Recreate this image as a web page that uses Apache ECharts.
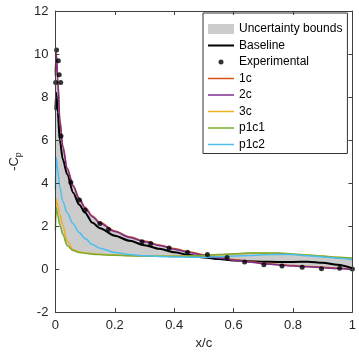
<!DOCTYPE html>
<html>
<head>
<meta charset="utf-8">
<script src="https://cdn.jsdelivr.net/npm/echarts@6/dist/echarts.min.js"></script>
<style>
  html, body { margin: 0; padding: 0; background: #fff; }
  #chart { width: 359px; height: 355px; }
</style>
</head>
<body>
<div id="chart"></div>
<script>
// chordwise stations shared by all computed curves
const xPos = [0, 0.003, 0.008, 0.015, 0.025, 0.04, 0.06, 0.08, 0.1, 0.125, 0.15, 0.2, 0.25, 0.3, 0.35, 0.4, 0.45, 0.5, 0.55, 0.6, 0.65, 0.7, 0.75, 0.8, 0.85, 0.9, 0.95, 1.0]

const baseline = [7.4, 8.2, 7.3, 6.0, 5.1, 4.4, 3.55, 3.0, 2.62, 2.15, 1.9, 1.55, 1.31, 1.11, 0.94, 0.78, 0.65, 0.54, 0.46, 0.4, 0.36, 0.34, 0.33, 0.33, 0.34, 0.29, 0.2, 0.03]
const c1 = [9.2, 10.1, 8.9, 7.0, 5.75, 4.7, 3.9, 3.3, 2.87, 2.47, 2.17, 1.77, 1.5, 1.3, 1.12, 0.95, 0.8, 0.66, 0.54, 0.44, 0.35, 0.27, 0.21, 0.16, 0.12, 0.08, 0.04, -0.02]
const c2 = [9.0, 10.0, 8.8, 6.9, 5.68, 4.65, 3.85, 3.26, 2.83, 2.43, 2.13, 1.74, 1.47, 1.27, 1.09, 0.92, 0.77, 0.63, 0.51, 0.41, 0.33, 0.25, 0.19, 0.14, 0.1, 0.06, 0.02, -0.03]
const c3 = [2.3, 3.25, 2.95, 2.55, 2.05, 1.3, 0.9, 0.8, 0.75, 0.71, 0.68, 0.65, 0.62, 0.6, 0.59, 0.59, 0.6, 0.62, 0.66, 0.7, 0.73, 0.74, 0.73, 0.69, 0.64, 0.59, 0.54, 0.49]
const p1c1 = [1.8, 2.85, 2.5, 2.05, 1.6, 1.08, 0.86, 0.77, 0.73, 0.69, 0.67, 0.64, 0.62, 0.6, 0.59, 0.59, 0.6, 0.63, 0.67, 0.71, 0.74, 0.75, 0.74, 0.7, 0.65, 0.6, 0.55, 0.5]
const p1c2 = [3.7, 5.2, 4.6, 3.85, 3.15, 2.6, 2.1, 1.7, 1.42, 1.14, 0.97, 0.77, 0.67, 0.62, 0.58, 0.56, 0.55, 0.55, 0.57, 0.6, 0.63, 0.66, 0.68, 0.67, 0.62, 0.56, 0.5, 0.43]

// measured points
const expX = [0.001, 0.004, 0.01, 0.013, 0.018, 0.019, 0.052, 0.081, 0.1, 0.15, 0.179, 0.292, 0.321, 0.383, 0.445, 0.512, 0.578, 0.637, 0.702, 0.763, 0.831, 0.896, 0.957, 1.0]
const expY = [8.68, 10.19, 9.69, 9.04, 8.68, 6.19, 4.03, 3.21, 2.73, 2.12, 1.84, 1.27, 1.19, 0.98, 0.78, 0.67, 0.54, 0.33, 0.2, 0.14, 0.08, 0.01, 0.03, 0.0]

const xTicks = [0, 0.2, 0.4, 0.6, 0.8, 1]
const yTicks = [-2, 0, 2, 4, 6, 8, 10, 12]

const colors = {
    c1: '#D95319',
    c2: '#7E2F8E',
    c3: '#EDB120',
    p1c1: '#77AC30',
    p1c2: '#4DBEEE'
}

// envelope of all computed curves
const all = [baseline, c1, c2, c3, p1c1, p1c2]
const lower = xPos.map((x, i) => Math.min(...all.map(s => s[i])))
const upper = xPos.map((x, i) => Math.max(...all.map(s => s[i])))

const pairs = ys => xPos.map((x, i) => [x, ys[i]])

const font = '"Liberation Sans", Arial, Helvetica, sans-serif'
const axisColor = '#404040'
const textColor = '#262626'

// legend icons: degenerate corners keep the 26x10 box so the mark keeps its size
const lineIcon = w => 'path://M0,0L0,0M26,10L26,10M0,' + (5 - w / 2) + 'L26,' + (5 - w / 2) + 'L26,' + (5 + w / 2) + 'L0,' + (5 + w / 2) + 'Z'
const dotIcon = 'path://M0,0L0,0M26,10L26,10M15.5,5A2.5,2.5,0,1,1,10.5,5A2.5,2.5,0,1,1,15.5,5Z'

const chart = echarts.init(document.getElementById('chart'))

function lineSeries(name, ys, color, width) {
    return {
        name: name,
        type: 'line',
        data: pairs(ys),
        smooth: 0.3,
        smoothMonotone: 'x',
        symbol: 'none',
        lineStyle: { color: color, width: width },
        itemStyle: { color: color },
        z: 3
    }
}

function axisCommon(extra) {
    return Object.assign({
        type: 'value',
        z: 10,
        axisLine: { show: true, onZero: false, lineStyle: { color: axisColor, width: 1 } },
        axisTick: { show: true, inside: true, length: 4, lineStyle: { color: axisColor } },
        axisLabel: { fontSize: 13, color: textColor, margin: 7, fontFamily: font },
        splitLine: { show: false }
    }, extra)
}

const option = {
    animation: false,
    textStyle: { fontFamily: font },
    grid: { left: 52, right: 6, top: 11, bottom: 43, containLabel: false },
    legend: {
        orient: 'vertical',
        left: 203,
        top: 13,
        padding: [10, 5, 3, 5],
        itemWidth: 26,
        itemHeight: 10,
        itemGap: 4.5,
        backgroundColor: '#fff',
        borderColor: '#333',
        borderWidth: 1,
        borderRadius: 0,
        textStyle: { fontSize: 12, color: '#000', fontFamily: font },
        data: [
            { name: 'Uncertainty bounds', icon: 'rect', itemStyle: { color: '#cccccc' } },
            { name: 'Baseline', icon: lineIcon(2), itemStyle: { color: '#000' } },
            { name: 'Experimental', icon: dotIcon, itemStyle: { color: '#000', borderWidth: 0 } },
            { name: '1c', icon: lineIcon(1.5), itemStyle: { color: colors.c1 } },
            { name: '2c', icon: lineIcon(1.5), itemStyle: { color: colors.c2 } },
            { name: '3c', icon: lineIcon(1.5), itemStyle: { color: colors.c3 } },
            { name: 'p1c1', icon: lineIcon(1.5), itemStyle: { color: colors.p1c1 } },
            { name: 'p1c2', icon: lineIcon(1.5), itemStyle: { color: colors.p1c2 } }
        ]
    },
    xAxis: [
        axisCommon({
            position: 'bottom', min: xTicks[0], max: xTicks[xTicks.length - 1], interval: 0.2,
            name: 'x/c', nameLocation: 'middle', nameGap: 25,
            nameTextStyle: { fontSize: 13, color: textColor, fontFamily: font }
        }),
        axisCommon({
            position: 'top', min: xTicks[0], max: xTicks[xTicks.length - 1], interval: 0.2,
            axisLabel: { show: false }
        })
    ],
    yAxis: [
        axisCommon({
            position: 'left', min: yTicks[0], max: yTicks[yTicks.length - 1], interval: 2,
            name: '-C{s|p}', nameLocation: 'middle', nameGap: 24, nameRotate: 90,
            nameTextStyle: {
                fontSize: 13, color: textColor, fontFamily: font,
                rich: { s: { fontSize: 9, verticalAlign: 'bottom', padding: [8, 0, 0, 0], color: textColor, fontFamily: font } }
            }
        }),
        axisCommon({
            position: 'right', min: yTicks[0], max: yTicks[yTicks.length - 1], interval: 2,
            axisLabel: { show: false }
        })
    ],
    series: [
        {
            name: 'Uncertainty bounds',
            type: 'line',
            data: pairs(upper),
            smooth: 0.3,
            smoothMonotone: 'x',
            symbol: 'none',
            lineStyle: { width: 0, opacity: 0 },
            itemStyle: { color: '#cccccc' },
            areaStyle: { color: '#cccccc', opacity: 1, origin: 'start' },
            z: 1
        },
        {
            // blank out everything under the lower bound
            name: 'lowerBound',
            type: 'line',
            data: pairs(lower),
            smooth: 0.3,
            smoothMonotone: 'x',
            symbol: 'none',
            lineStyle: { width: 0, opacity: 0 },
            areaStyle: { color: '#ffffff', opacity: 1, origin: 'start' },
            z: 2
        },
        lineSeries('Baseline', baseline, '#000000', 2),
        {
            name: 'Experimental',
            type: 'scatter',
            data: expX.map((x, i) => [x, expY[i]]),
            symbol: 'circle',
            symbolSize: 5,
            itemStyle: { color: '#000' },
            z: 4
        },
        lineSeries('1c', c1, colors.c1, 1.5),
        lineSeries('2c', c2, colors.c2, 1.5),
        lineSeries('3c', c3, colors.c3, 1.5),
        lineSeries('p1c1', p1c1, colors.p1c1, 1.5),
        lineSeries('p1c2', p1c2, colors.p1c2, 1.5)
    ]
}

chart.setOption(option)
</script>
</body>
</html>
